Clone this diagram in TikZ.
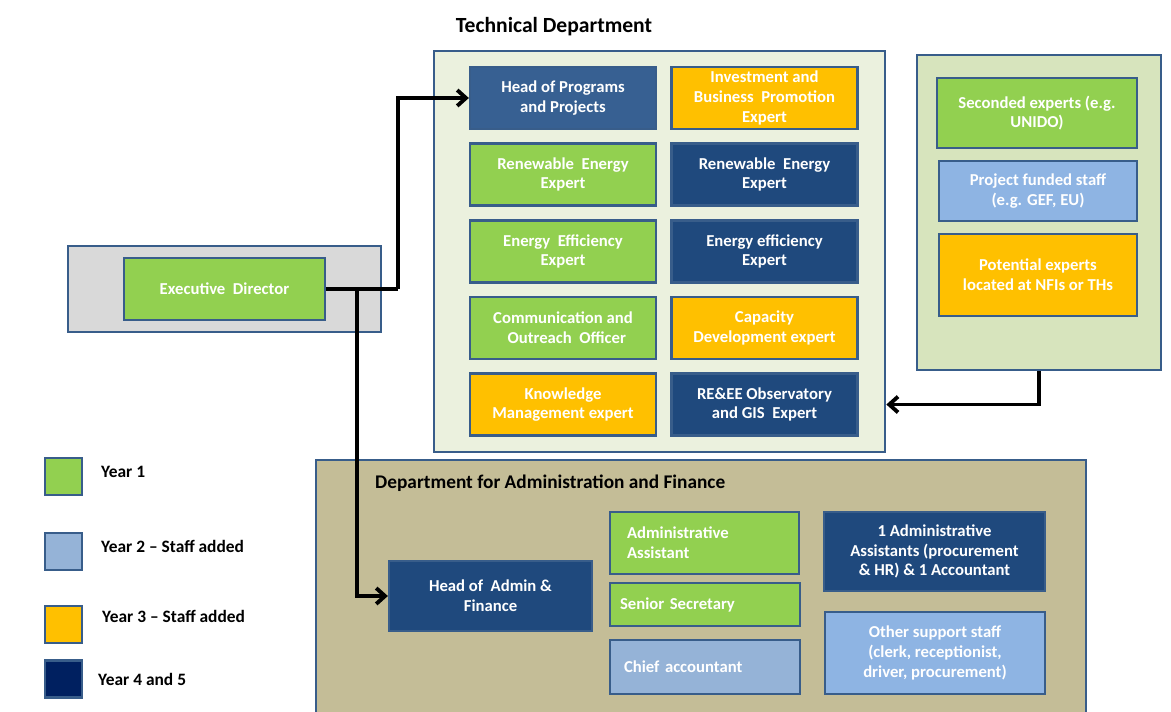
\documentclass[tikz,border=0pt]{standalone}
\usepackage{fontspec}
\setmainfont{Carlito}
\usetikzlibrary{arrows.meta}
\definecolor{edge}{HTML}{385D8A}
\definecolor{yrone}{HTML}{92D050}
\definecolor{yrtwo}{HTML}{95B3D7}
\definecolor{yrtwob}{HTML}{8EB4E3}
\definecolor{yrthree}{HTML}{FFC000}
\definecolor{yrfour}{HTML}{1F497D}
\definecolor{navy}{HTML}{002060}
\definecolor{midblue}{HTML}{376092}
\definecolor{techbg}{HTML}{EBF1DE}
\definecolor{poolbg}{HTML}{D7E4BD}
\definecolor{adminbg}{HTML}{C4BD97}
\definecolor{execbg}{HTML}{D9D9D9}
\begin{document}
\begin{tikzpicture}[x=0.02cm, y=-0.02cm,
		dept/.style={draw=edge, line width=1.6pt},
		post/.style={draw=edge, line width=1.3pt, text=white, align=center, inner sep=2pt,
			font=\fontsize{9.5}{11.2}\selectfont\bfseries},
		techpost/.style={post, minimum width=3.72cm, minimum height=1.24cm},
		key/.style={draw=edge, line width=1.3pt, minimum size=0.74cm},
		keytext/.style={anchor=west, font=\fontsize{9.9}{11}\selectfont\bfseries},
		link/.style={line width=2.2pt, -{Straight Barb[length=5pt, width=9pt]}}]
	\useasboundingbox (0,0) rectangle (1171,711);

		\node[dept, fill=adminbg, minimum width=15.4cm, minimum height=5.2cm] at (701,590) (admin) {};
		\node[anchor=west, font=\fontsize{11}{13}\selectfont\bfseries] at (369,483) (admintitle) {Department for Administration and Finance};

		\node[dept, fill=techbg, minimum width=9.02cm, minimum height=8.02cm] at (659.5,251.5) (tech) {};
		\node[font=\fontsize{12.3}{14}\selectfont\bfseries] at (554,27) (techtitle) {Technical Department};

		\node[dept, fill=poolbg, minimum width=4.88cm, minimum height=6.3cm] at (1039,212.5) (pool) {};
		\node[dept, fill=execbg, minimum width=6.26cm, minimum height=1.72cm] at (224.5,289) (execbox) {};

		\node[post, fill=yrone, minimum width=4.02cm, minimum height=1.24cm] at (224.5,289) (ed) {Executive~~Director};

		\node[techpost, fill=midblue] at (563,98) (hop) {Head of Programs\\and Projects};
		\node[techpost, fill=yrthree] at (764.5,98) (inv) {Investment and\\Business~~Promotion\\Expert};
		\node[techpost, fill=yrone] at (563,174.5) (regreen) {Renewable~~Energy\\Expert};
		\node[techpost, fill=yrfour] at (764.5,174.5) (reblue) {Renewable~~Energy\\Expert};
		\node[techpost, fill=yrone] at (563,251.5) (eegreen) {Energy~~Efficiency\\Expert};
		\node[techpost, fill=yrfour] at (764.5,251.5) (eeblue) {Energy efficiency\\Expert};
		\node[techpost, fill=yrone] at (563,328) (comm) {Communication and\\~~Outreach~~Officer};
		\node[techpost, fill=yrthree] at (764.5,328) (capdev) {Capacity\\Development expert};
		\node[techpost, fill=yrthree] at (563,404.5) (km) {Knowledge\\Management expert};
		\node[techpost, fill=yrfour] at (764.5,404.5) (obs) {RE\&EE Observatory\\and GIS~~Expert};

		\node[post, fill=yrone, minimum width=4cm, minimum height=1.4cm] at (1037,113) (seconded) {Seconded experts (e.g.\\UNIDO)};
		\node[post, fill=yrtwob, minimum width=3.96cm, minimum height=1.2cm] at (1038,191) (funded) {Project funded staff\\(e.g. GEF, EU)};
		\node[post, fill=yrthree, minimum width=3.96cm, minimum height=1.64cm] at (1038,275) (nfi) {Potential experts\\located at NFIs or THs};

		\node[post, fill=yrfour, minimum width=4.06cm, minimum height=1.4cm] at (490.5,596) (haf) {Head of~~Admin \&\\Finance};
		\node[post, fill=yrone, align=left, inner xsep=0.34cm, text width=3.1cm, minimum height=1.24cm] at (704.5,543) (assist) {Administrative\\Assistant};
		\node[post, fill=yrone, align=left, inner xsep=0.2cm, text width=3.4cm, minimum height=0.86cm] at (705,604.5) (secr) {Senior Secretary};
		\node[post, fill=yrtwo, align=left, inner xsep=0.28cm, text width=3.24cm, minimum height=1.08cm] at (705,667) (chief) {Chief accountant};
		\node[post, fill=yrfour, minimum width=4.42cm, minimum height=1.58cm] at (934.5,551.5) (accts) {1 Administrative\\Assistants (procurement\\\& HR) \& 1 Accountant};
		\node[post, fill=yrtwob, minimum width=4.4cm, minimum height=1.64cm] at (935,653) (support) {Other support staff\\(clerk, receptionist,\\driver, procurement)};

		\node[key, fill=yrone] at (63.5,476.5) (k1) {};
		\node[key, fill=yrtwo] at (63.5,551.5) (k2) {};
		\node[key, fill=yrthree] at (63.5,624.5) (k3) {};
		\node[key, fill=navy] at (63.5,679) (k4) {};
		\node[keytext] at (95,472) (k1text) {Year 1};
		\node[keytext] at (95,546) (k2text) {Year 2 -- Staff added};
		\node[keytext] at (96,616) (k3text) {Year 3 -- Staff added};
		\node[keytext] at (92,679) (k4text) {Year 4 and 5};

		\coordinate (up) at (398,289);
		\coordinate (split) at (357,289);
		\draw[line width=2.2pt] (ed.east) -- (up);
		\draw[link] (up) |- (hop.west);
		\draw[link] (split) |- (haf.west);
		\draw[link] (pool.south) |- (tech.east |- obs);
	\end{tikzpicture}
\end{document}
